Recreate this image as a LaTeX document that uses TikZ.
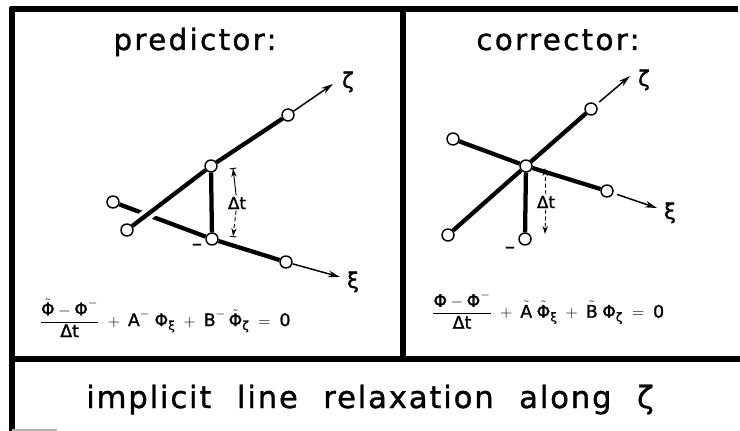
\documentclass[tikz,border=0pt]{standalone}
\usepackage{fontspec}
\usepackage{amsmath}
\setmainfont{DejaVu Sans}
\newfontfamily\lettering[LetterSpace=8,FakeBold=1.2]{DejaVu Sans}
\newfontfamily\bottomtext[LetterSpace=6,WordSpace=2.2,FakeBold=1.2]{DejaVu Sans}
\newfontfamily\eqfont[FakeBold=1.5]{DejaVu Sans}
\usetikzlibrary{arrows.meta}

\begin{document}
\begin{tikzpicture}[x=0.75pt,y=-0.75pt,
    frame/.style={line width=4pt},
    gridline/.style={line width=3.2pt},
    halo/.style={white,line width=9pt,shorten <=5pt,shorten >=5pt},
    axis/.style={line width=1.1pt,-{Stealth[length=9pt,width=5pt]}},
    pt/.style={circle,draw,fill=white,line width=1.1pt,minimum size=9pt,inner sep=0pt},
    dimtip/.style={line width=0.7pt,-{Stealth[length=6pt,width=4pt]Bar[width=5pt]}},
    dimarrow/.style={line width=0.7pt,densely dashed,-{Stealth[length=6pt,width=4pt]}},
    title/.style={font=\lettering\fontsize{22}{24}\selectfont,anchor=base},
    greek/.style={font=\eqfont\fontsize{16}{18}\selectfont},
    eq/.style={font=\eqfont\fontsize{13}{15}\selectfont},
    small/.style={font=\eqfont\fontsize{12.5}{14}\selectfont,inner sep=1pt},
    levelmark/.style={font=\eqfont\fontsize{15}{16}\selectfont,inner sep=0pt}]
    \useasboundingbox (0,0) rectangle (740,431);

    % Rahmen
    \draw[frame] (10,9) -- (738,9);
    \draw[frame] (12,7) -- (12,431);
    \draw[frame] (403,9) -- (403,359);
    \draw[frame] (10,359) -- (740,359);
    \draw[gray!60,line width=0.8pt] (12,430) -- (57,430);

    % Titel
    \node[title] (tp) at (195,50) {predictor:};
    \node[title] (tc) at (558,50) {corrector:};

    % Praediktor: Gitterpunkte
    \node[pt] (p1) at (127,230) {};
    \node[pt] (p2) at (211,166) {};
    \node[pt] (p3) at (288,115) {};
    \node[pt] (q1) at (113,202) {};
    \node[pt] (q2) at (212,239) {};
    \node[pt] (q3) at (286,262) {};
    \coordinate (pz) at (333,84);
    \coordinate (qx) at (340,277);

    % Praediktor: Linien
    \draw[gridline] (q1) -- (q2) -- (q3);
    \draw[halo] (p1) -- (p2);
    \draw[gridline] (p1) -- (p2) -- (p3);
    \draw[gridline] (p2) -- (q2);
    \draw[axis] (p3) -- (pz);
    \draw[axis] (q3) -- (qx);
    \node[greek] (pzl) at (348,82) {ζ};
    \node[greek] (qxl) at (353,282) {ξ};

    % Praediktor: Delta t
    \coordinate (pd1) at (233,168);
    \coordinate (pd2) at (233,237);
    \node[small,fill=white] (pdl) at (237,203) {Δt};
    \draw[dimtip] (pdl) -- (pd1);
    \draw[dimtip,densely dashed] (pdl) -- (pd2);
    \node[levelmark] (pm) at (197,247) {–};

    % Praediktor: Gleichung
    \node[eq] (peq) at (165,318)
        {$\dfrac{\tilde{\text{Φ}}-\text{Φ}^{-}}{\text{Δt}}\;+\;\text{A}^{-}\;\text{Φ}_{\text{ξ}}
        \;+\;\text{B}^{-}\,\tilde{\text{Φ}}_{\text{ζ}}\;=\;\text{0}$};

    % Korrektor: Gitterpunkte
    \node[pt] (c0) at (526,166) {};
    \node[pt] (c1) at (448,235) {};
    \node[pt] (c2) at (591,109) {};
    \node[pt] (d1) at (453,139) {};
    \node[pt] (d2) at (607,191) {};
    \node[pt] (c3) at (525,239) {};
    \coordinate (cz) at (630,76);
    \coordinate (dx) at (657,208);

    % Korrektor: Linien
    \draw[gridline] (c1) -- (c0) -- (c2);
    \draw[gridline] (d1) -- (c0) -- (d2);
    \draw[gridline] (c0) -- (c3);
    \draw[axis,shorten <=3pt] (c2) -- (cz);
    \draw[axis,shorten <=3pt] (d2) -- (dx);
    \node[greek] (czl) at (644,80) {ζ};
    \node[greek] (dxl) at (670,213) {ξ};

    % Korrektor: Delta t
    \coordinate (cd1) at (545,168);
    \coordinate (cd2) at (545,234);
    \node[small,fill=white] (cdl) at (546,202) {Δt};
    \draw[dimarrow] (cdl) -- (cd1);
    \draw[dimarrow] (cdl) -- (cd2);
    \node[levelmark] (cm) at (510,250) {–};

    % Korrektor: Gleichung
    \node[eq] (ceq) at (548,310)
        {$\dfrac{\text{Φ}-\text{Φ}^{-}}{\text{Δt}}\;+\;\tilde{\text{A}}\;\tilde{\text{Φ}}_{\text{ξ}}
        \;+\;\tilde{\text{B}}\;\text{Φ}_{\text{ζ}}\;=\;\text{0}$};

    % Unterschrift
    \node[font=\bottomtext\fontsize{23}{26}\selectfont,anchor=base] (cap) at (370,408)
        {implicit line relaxation along ζ};
\end{tikzpicture}
\end{document}
